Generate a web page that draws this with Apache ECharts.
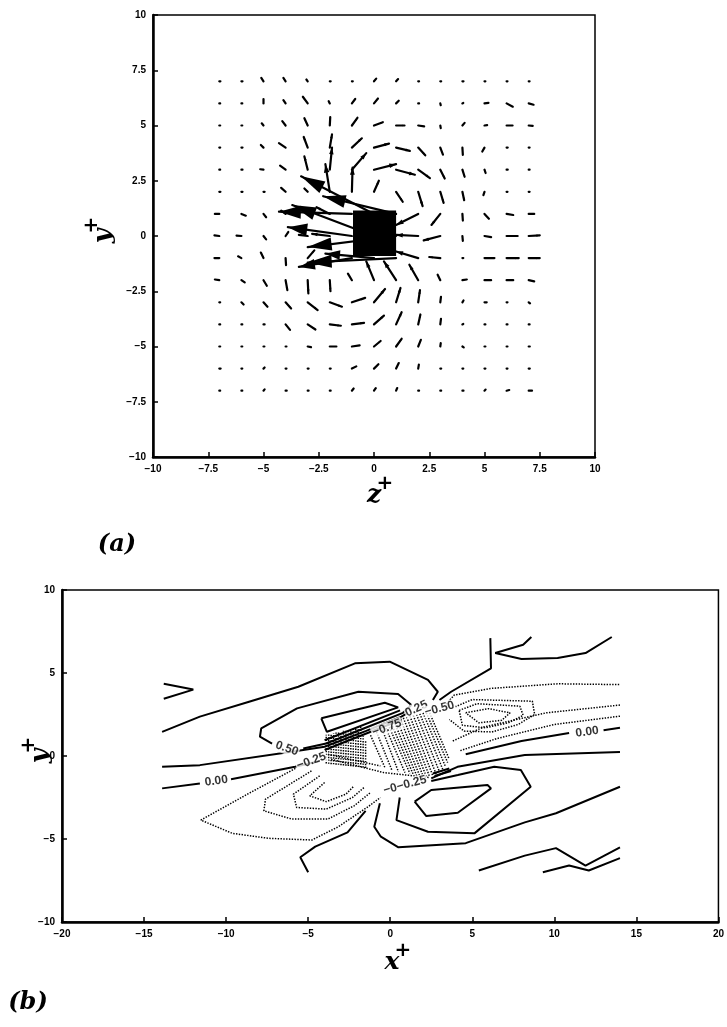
<!DOCTYPE html>
<html>
<head>
<meta charset="utf-8">
<script src="https://cdn.jsdelivr.net/npm/echarts@6/dist/echarts.min.js"></script>
<style>
html,body{margin:0;padding:0;background:#fff}
#c{width:727px;height:1027px}
</style>
</head>
<body>
<div id="c"></div>
<script>
// ---------- Panel (a): cross-stream velocity vectors in the z+ / y+ plane ----------
const Z_POS = [-7,-6,-5,-4,-3,-2,-1,0,1,2,3,4,5,6,7];
const Y_POS = [7,6,5,4,3,2,1,0,-1,-2,-3,-4,-5,-6,-7];
// horizontal (spanwise) component, one row per Y_POS entry
const W_COMP = [
 [0.05,0.05,-0.1,-0.1,-0.06,0.04,0.04,0.1,0.09,0.04,0.04,0.05,0.04,0.04,0.04],
 [0.04,0.04,0,-0.1,-0.22,-0.05,0.15,0.18,0.12,0.04,0.02,0.04,0.18,0.28,0.22],
 [0.04,0.04,-0.08,-0.15,-0.15,0.02,0.25,0.4,0.38,0.27,0.02,0.1,0.12,0.27,0.18],
 [0.04,0.05,-0.12,-0.3,-0.18,0.1,0.45,0.68,0.62,0.32,0.12,0.02,-0.1,0.05,0.04],
 [0.04,0.05,-0.15,-0.25,-0.15,0.1,0.65,1.0,0.85,0.53,0.2,0.1,0.05,0.05,0.04],
 [0.05,0.05,0.05,-0.2,-0.15,-0.2,0.03,0.22,0.3,0.2,0.15,0.08,-0.05,0.04,0.04],
 [-0.2,0.2,0.12,-0.2,-0.25,-0.6,-3.3,-3.3,-3.3,-1.0,-0.4,0.02,0.2,0.3,0.25],
 [-0.22,-0.22,0.12,0.12,-0.4,-0.8,-2.9,-3.7,-4.0,-1.0,-0.75,0.02,0.3,0.5,0.5],
 [-0.22,-0.15,-0.12,0.02,0.3,-0.5,-2.4,-2.2,-4.0,-1.0,-0.5,0.04,0.45,0.55,0.5],
 [-0.2,0.15,0.15,0.08,0.03,0.03,-0.18,-0.35,-0.55,-0.4,-0.12,0.2,0.3,0.3,0.25],
 [0.04,0.1,0.18,0.25,0.45,0.55,0.6,0.5,0.2,0.08,0.03,0.05,0.1,0.04,0.06],
 [0.04,0.04,0.05,0.2,0.35,0.5,0.55,0.45,0.25,0.1,0.03,0.04,0.04,0.04,0.04],
 [0.04,0.04,0.04,0.04,0.15,0.3,0.35,0.3,0.25,0.12,0.02,0.06,0.04,0.04,0.05],
 [0.06,0.04,0.05,0.04,0.04,0.04,0.2,0.2,0.12,0.03,0.04,0.04,0.04,0.04,0.05],
 [0.04,0.04,0.05,0.05,0.04,0.04,0.08,0.08,0.05,0.04,0.04,0.05,0.05,0.12,0.15]
];
// vertical (wall-normal) component
const V_COMP = [
 [0,0,0.15,0.15,0.08,0,0,0.12,0.1,0,0,0,0,0,0],
 [0,0,0.2,0.15,0.3,0.1,0.2,0.22,0.12,0,-0.08,0.02,0.02,-0.15,-0.06],
 [0,0,0.1,0.2,0.33,0.38,0.35,0.15,0,-0.04,-0.12,0.12,0.02,0,-0.02],
 [0,0,0.12,0.2,0.48,0.6,0.42,0.18,-0.15,-0.35,-0.32,-0.33,-0.18,0,0],
 [0,0,0.02,0.18,0.6,1.0,0.75,0.25,-0.23,-0.38,-0.4,-0.32,-0.15,0,0],
 [0,0,0,0.18,0.15,1.25,1.1,0.5,-0.45,-0.65,-0.5,-0.38,-0.15,0,0],
 [0,-0.08,-0.15,0.15,0.2,0.3,0.1,1.7,0.8,-0.5,-0.5,-0.3,-0.22,-0.05,0],
 [0.03,0.02,-0.15,0.18,0.05,0.1,0.4,1.4,-0.5,0.05,-0.2,-0.22,-0.05,0,0.03],
 [0,0.08,0.25,-0.32,0.35,-0.1,-0.4,0.2,-0.2,0.3,0.05,0,0,0,0],
 [0.03,-0.1,-0.25,-0.45,-0.6,-0.5,0.3,0.85,0.85,0.7,0.25,0.03,0,0,-0.05],
 [0,-0.1,-0.2,-0.28,-0.35,-0.2,0.2,0.6,0.65,0.55,0.25,0.08,0,0,-0.05],
 [0,0,0,-0.25,-0.23,-0.06,0.07,0.4,0.55,0.45,0.25,0.02,0,0,0],
 [0,0,0,0,-0.03,0,0.05,0.25,0.35,0.3,0.15,-0.04,0,0,0],
 [0,0,0.05,0,0,0,0.1,0.2,0.25,0.18,0,0,0,0,0],
 [0,0,0.06,0,0,0,0.1,0.12,0.12,0,0,0,0.05,0.03,0]
];
// the solid body in the section
const BODY_Z = [-0.95, 1.0];
const BODY_Y = [-0.9, 1.15];

// ---------- Panel (b): contours in the x+ / y+ plane ----------
// solid = positive / zero levels
const POS_CONTOURS = [
 [[-13.8,4.35],[-12.0,4.0],[-13.8,3.45]],
 [[-13.9,1.45],[-11.6,2.37],[-8.6,3.27],[-5.6,4.17],[-2.15,5.58],[-0.03,5.68],[2.3,4.58],[2.9,3.87],[2.6,3.37]],
 [[-13.9,-0.65],[-11.6,-0.55],[-6.0,0.26],[-4.0,0.56],[-1.5,1.5],[0.68,2.37],[1.0,2.55]],
 [[-5.3,0.45],[-3.9,0.75],[-1.5,1.7],[0.78,2.6],[1.29,3.07],[0.48,3.73],[-1.94,3.87],[-5.68,2.87],[-7.86,1.66],[-7.94,1.16],[-7.2,0.75]],
 [[-4.2,2.27],[-0.33,3.21],[0.48,2.93],[-3.86,1.46],[-4.2,2.27]],
 [[-4.0,0.36],[0.7,2.2]],
 [[-4.0,0.95],[0.6,2.75]],
 [[-13.9,-1.95],[-11.6,-1.65]],
 [[-9.7,-1.4],[-5.8,-0.65],[-4.3,-0.3]],
 [[6.1,7.1],[6.14,5.28],[3.71,3.87],[3.0,3.37]],
 [[8.6,7.17],[8.1,6.7],[6.4,6.2],[8.0,5.84],[10.2,5.9],[11.9,6.2],[13.5,7.17]],
 [[4.6,0.1],[8.0,0.9],[10.9,1.39]],
 [[13.0,1.55],[14.0,1.7]],
 [[2.5,-1.35],[4.1,-0.65],[8.2,0.06],[14.0,0.24]],
 [[2.6,-1.05],[3.6,-0.75]],
 [[2.7,-1.2],[3.7,-0.9]],
 [[1.49,-2.75],[2.5,-2.05],[5.93,-1.75],[6.14,-1.95],[4.12,-3.42],[2.2,-3.62],[1.49,-2.75]],
 [[2.5,-1.5],[4.12,-1.15],[6.34,-0.65],[7.96,-0.85],[8.56,-1.85],[5.13,-4.66],[2.3,-4.56],[0.38,-3.86],[0.58,-2.5]],
 [[-0.63,-2.85],[-0.97,-4.26],[-0.57,-4.86],[0.5,-5.5],[4.6,-5.25],[8.2,-4.0],[10.1,-3.45],[14.0,-1.85]],
 [[-5.0,-7.0],[-5.48,-6.1],[-4.57,-5.46],[-2.6,-4.6],[-1.5,-3.3]],
 [[5.4,-6.9],[8.2,-6.0],[10.1,-5.55],[11.9,-6.6],[14.0,-5.5]],
 [[9.3,-7.0],[10.9,-6.6],[12.1,-6.9],[14.0,-6.15]]
];
// dotted = negative levels
const NEG_CONTOURS = [
 [[3.3,3.0],[3.9,3.67],[6.1,4.07],[10.2,4.35],[14.0,4.3]],
 [[14.0,3.07],[9.5,2.6],[5.7,1.75],[3.8,0.9]],
 [[3.8,2.9],[5.0,3.4],[8.66,3.3],[8.8,2.5],[7.8,1.9],[6.2,1.45],[4.5,1.5],[3.6,2.2]],
 [[4.2,2.75],[5.3,3.15],[7.9,3.0],[8.1,2.45],[7.2,2.0],[5.8,1.7],[4.4,1.85],[4.2,2.75]],
 [[4.6,2.6],[6.0,2.85],[7.3,2.6],[6.8,2.15],[5.4,2.0],[4.6,2.6]],
 [[14.0,2.4],[10.0,1.9],[6.5,1.05],[4.2,0.3]],
 [[-5.78,-0.75],[-8.61,-2.25],[-11.54,-3.86],[-9.62,-4.66],[-7.4,-4.96],[-4.77,-5.06],[-3.16,-4.26],[-1.34,-3.05],[-0.6,-2.5]],
 [[-4.8,-0.9],[-7.6,-2.6],[-7.7,-3.3],[-6.0,-3.8],[-3.8,-3.8],[-2.2,-3.0],[-1.2,-2.2]],
 [[-4.3,-1.2],[-5.9,-2.3],[-5.7,-3.1],[-3.9,-3.2],[-2.3,-2.5],[-1.6,-1.9]],
 [[-4.0,-1.6],[-4.9,-2.4],[-3.9,-2.75],[-2.7,-2.3],[-2.2,-1.8]],
 // closely packed levels across the shear layer
 [[-3.9,-0.45],[-3.9,1.28]],
 [[-3.75,-0.47],[-3.75,1.31]],
 [[-3.6,-0.49],[-3.6,1.35]],
 [[-3.45,-0.5],[-3.45,1.38]],
 [[-3.3,-0.52],[-3.3,1.42]],
 [[-3.15,-0.53],[-3.15,1.45]],
 [[-3.0,-0.55],[-3.0,1.48]],
 [[-2.85,-0.57],[-2.85,1.52]],
 [[-2.7,-0.58],[-2.7,1.55]],
 [[-2.55,-0.6],[-2.55,1.58]],
 [[-2.4,-0.62],[-2.4,1.62]],
 [[-2.25,-0.63],[-2.25,1.65]],
 [[-2.1,-0.65],[-2.1,1.68]],
 [[-1.95,-0.67],[-1.95,1.72]],
 [[-1.8,-0.68],[-1.8,1.75]],
 [[-1.65,-0.7],[-1.65,1.2]],
 [[-1.5,-0.72],[-1.5,0.9]],
 [[-1.2,1.25],[-0.3,-0.75]],
 [[-0.9,1.6],[0.1,-0.85]],
 [[-0.6,1.9],[0.5,-0.95]],
 [[-0.4,2.0],[0.9,-1.0]],
 [[-0.2,2.05],[1.2,-1.05]],
 [[0.0,2.1],[1.4,-1.1]],
 [[0.2,2.15],[1.6,-1.15]],
 [[0.4,2.2],[1.8,-1.2]],
 [[0.6,2.25],[2.0,-1.2]],
 [[0.8,2.3],[2.2,-1.25]],
 [[1.0,2.35],[2.4,-1.25]],
 [[1.2,2.4],[2.6,-1.2]],
 [[1.4,2.45],[2.8,-1.1]],
 [[1.6,2.5],[3.0,-0.95]],
 [[1.8,2.55],[3.2,-0.8]],
 [[2.0,2.6],[3.35,-0.6]],
 [[2.2,2.6],[3.5,-0.4]],
 [[2.4,2.6],[3.6,-0.2]],
 [[-3.6,-0.2],[-0.4,-1.0],[2.4,-1.3]],
 [[-3.8,0.1],[-0.6,-0.6]]
];
// contour level labels: text and anchor point
const LEVEL_TEXT = ['0.00','0.50','\u22120.25','\u22120.75','0.25','\u22120.50','0.00','\u22120\u22120.25'];
const LEVEL_X    = [-10.6, -6.3, -4.8, -0.2, 1.6, 3.0, 12.0, 0.9];
const LEVEL_Y    = [-1.5, 0.45, -0.3, 1.7, 2.85, 2.85, 1.45, -1.75];
const LEVEL_ROT  = [8, -20, 20, 20, 25, 15, 8, 15];

// tick values
const A_TICKS = [-10,-7.5,-5,-2.5,0,2.5,5,7.5,10];
const B_X_TICKS = [-20,-15,-10,-5,0,5,10,15,20];
const B_Y_TICKS = [-10,-5,0,5,10];

const fmt = v => (v < 0 ? '\u2212' + Math.abs(v) : String(v));
const tickFont = {fontFamily:'Liberation Sans', fontWeight:'bold', fontSize:10, color:'#000'};

function axisBase(ticks, pos) {
  return {
    type:'value', min:ticks[0], max:ticks[ticks.length - 1], interval:ticks[1] - ticks[0], position:pos,
    axisLine:{show:true, onZero:false, lineStyle:{color:'#000', width:2.5}},
    axisTick:{show:true, inside:true, length:5, lineStyle:{color:'#000', width:1.5}},
    axisLabel:Object.assign({formatter:fmt, margin:7}, tickFont),
    splitLine:{show:false}
  };
}

const vecData = [];
Y_POS.forEach((y, i) => Z_POS.forEach((z, j) => vecData.push([z, y, W_COMP[i][j], V_COMP[i][j]])));

function renderArrow(params, api) {
  const z = api.value(0), y = api.value(1), dz = api.value(2), dy = api.value(3);
  const p0 = api.coord([z, y]);
  const p1 = api.coord([z + dz, y + dy]);
  const vx = p1[0] - p0[0], vy = p1[1] - p0[1];
  const L = Math.hypot(vx, vy);
  const kids = [{type:'line', shape:{x1:p0[0], y1:p0[1], x2:p1[0], y2:p1[1]},
                 style:{stroke:'#000', lineWidth:2.2, lineCap:'round'}}];
  if (L > 8) {
    const ux = vx / L, uy = vy / L;
    const hl = Math.min(0.3 * L, 24), hw = Math.min(0.1 * L, 6.5);
    const bx = p1[0] - ux * hl, by = p1[1] - uy * hl;
    kids.push({type:'polygon', shape:{points:[[p1[0], p1[1]], [bx - uy * hw, by + ux * hw], [bx + uy * hw, by - ux * hw]]},
               style:{fill:'#000'}});
  }
  return {type:'group', children:kids};
}

function renderBody(params, api) {
  const a = api.coord([api.value(0), api.value(3)]);
  const b = api.coord([api.value(2), api.value(1)]);
  return {type:'rect', shape:{x:a[0], y:a[1], width:b[0] - a[0], height:b[1] - a[1]}, style:{fill:'#000'}};
}

const series = [
  {type:'custom', xAxisIndex:0, yAxisIndex:0, renderItem:renderBody,
   data:[[BODY_Z[0], BODY_Y[0], BODY_Z[1], BODY_Y[1]]], silent:true, z:2},
  {type:'custom', xAxisIndex:0, yAxisIndex:0, renderItem:renderArrow,
   encode:{x:0, y:1}, data:vecData, silent:true, z:3}
];
POS_CONTOURS.forEach(c => series.push({type:'line', xAxisIndex:1, yAxisIndex:1, data:c, showSymbol:false,
  symbol:'none', silent:true, animation:false, lineStyle:{color:'#000', width:2}, z:3}));
NEG_CONTOURS.forEach(c => series.push({type:'line', xAxisIndex:1, yAxisIndex:1, data:c, showSymbol:false,
  symbol:'none', silent:true, animation:false, lineStyle:{color:'#000', width:1.5, type:[1.4, 1.4]}, z:3}));
series.push({type:'scatter', xAxisIndex:1, yAxisIndex:1, symbolSize:0, silent:true, z:5,
  data:LEVEL_TEXT.map((t, i) => ({value:[LEVEL_X[i], LEVEL_Y[i]], name:t,
    label:{show:true, formatter:t, rotate:LEVEL_ROT[i], position:'inside',
           fontFamily:'Liberation Sans', fontWeight:'bold', fontSize:12, color:'#000',
           backgroundColor:'#fff', padding:[0,1]}}))});

const superPlus = (letter, x, y, rot) => ({
  type:'group', x, y, rotation:rot,
  children:[
    {type:'text', x:0, y:0, style:{text:letter, font:'italic bold 25px "DejaVu Serif"', fill:'#000',
      textAlign:'center', textVerticalAlign:'middle'}},
    {type:'text', x:11, y:-11, style:{text:'+', font:'bold 20px "DejaVu Sans"', fill:'#000',
      textAlign:'center', textVerticalAlign:'middle'}}
  ]
});

const chart = echarts.init(document.getElementById('c'), null, {renderer:'canvas'});
chart.setOption({
  animation:false,
  backgroundColor:'#fff',
  grid:[
    {left:153, top:15, width:442, height:442, show:true, borderColor:'#000', borderWidth:1.5, backgroundColor:'transparent'},
    {left:62, top:590, width:660, height:332, show:true, borderColor:'#000', borderWidth:1.5, backgroundColor:'transparent'}
  ],
  xAxis:[
    Object.assign(axisBase(A_TICKS, 'bottom'), {gridIndex:0}),
    Object.assign(axisBase(B_X_TICKS, 'bottom'), {gridIndex:1})
  ],
  yAxis:[
    Object.assign(axisBase(A_TICKS, 'left'), {gridIndex:0}),
    Object.assign(axisBase(B_Y_TICKS, 'left'), {gridIndex:1})
  ],
  graphic:[
    superPlus('y', 103, 236, Math.PI / 2),
    superPlus('z', 374, 495, 0),
    {type:'text', x:117, y:545, style:{text:'(a)', font:'italic bold 24px "DejaVu Serif"', fill:'#000',
      textAlign:'center', textVerticalAlign:'middle'}},
    superPlus('y', 40, 756, Math.PI / 2),
    superPlus('x', 392, 962, 0),
    {type:'text', x:28, y:1003, style:{text:'(b)', font:'italic bold 24px "DejaVu Serif"', fill:'#000',
      textAlign:'center', textVerticalAlign:'middle'}}
  ],
  series
});
</script>
</body>
</html>
